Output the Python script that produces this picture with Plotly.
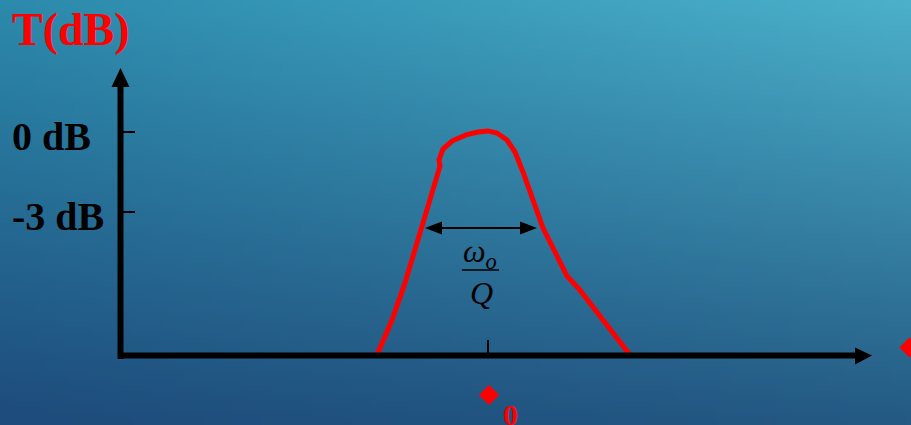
import zlib, struct, base64
import plotly.graph_objects as go

# ---------------- data ----------------
# frequency axis (arbitrary units), gain in dB
curve_freq = [3.77, 3.92, 4.05, 4.20, 4.40, 4.39, 4.43, 4.52, 4.66, 4.78, 4.88,
              4.97, 5.07, 5.15, 5.23, 5.43, 5.67, 5.80, 6.30]
curve_db = [-8.36, -7.05, -5.66, -3.75, -1.28, -1.05, -0.64, -0.34, -0.11, 0.0, 0.04,
            -0.04, -0.30, -0.75, -1.50, -3.60, -5.40, -5.93, -8.36]
tick_db = [0, -3]
tick_labels = ["0 dB", "-3 dB"]
center_freq = 4.88          # ω0
bw_low, bw_high = 4.25, 5.37  # bandwidth arrow ends
bw_level = -3.6
axis_origin_x = 1.205
axis_base_db = -8.38
axis_top_db = 2.4
axis_right_x = 8.72

# ---------------- scale (px <-> data) ----------------
W, H = 911, 425
PX_PER_DB = 80 / 3.0
Y0_PX = 132.0
def ydb(py):
    return (Y0_PX - py) / PX_PER_DB
Y_RANGE = [ydb(H), ydb(0)]
X_RANGE = [0, W / 100.0]

# ---------------- background gradient PNG ----------------
def make_png(w, h, fn):
    raw = bytearray()
    for j in range(h):
        raw.append(0)
        for i in range(w):
            r, g, b = fn(i / (w - 1), j / (h - 1))
            raw += bytes((int(r), int(g), int(b)))
    def chunk(tag, data):
        return (struct.pack('>I', len(data)) + tag + data +
                struct.pack('>I', zlib.crc32(tag + data) & 0xffffffff))
    png = (b'\x89PNG\r\n\x1a\n' +
           chunk(b'IHDR', struct.pack('>IIBBBBB', w, h, 8, 2, 0, 0, 0)) +
           chunk(b'IDAT', zlib.compress(bytes(raw))) + chunk(b'IEND', b''))
    return 'data:image/png;base64,' + base64.b64encode(png).decode()

TL, TR, BL, BR = (44, 138, 172), (76, 176, 202), (30, 76, 124), (36, 90, 132)
def grad(u, v):
    top = [TL[k] + (TR[k] - TL[k]) * u for k in range(3)]
    bot = [BL[k] + (BR[k] - BL[k]) * u for k in range(3)]
    return [top[k] + (bot[k] - top[k]) * v for k in range(3)]
bg_src = make_png(92, 43, grad)

# ---------------- figure ----------------
fig = go.Figure()

fig.add_trace(go.Scatter(x=curve_freq, y=curve_db, mode='lines',
                         line=dict(color='#ff0000', width=5),
                         hoverinfo='skip', showlegend=False, cliponaxis=False))

# diamonds (symbol-font ω rendered as ◆)
fig.add_trace(go.Scatter(x=[center_freq + 0.01, 9.095], y=[ydb(395), ydb(347.5)],
                         mode='markers',
                         marker=dict(symbol='diamond', size=15.5, color='#ff0000',
                                     line=dict(width=0)),
                         hoverinfo='skip', showlegend=False, cliponaxis=False))

shapes = []
blk = dict(color='black', width=6)
# vertical axis
shapes.append(dict(type='line', xref='x', yref='y', x0=axis_origin_x, x1=axis_origin_x,
                   y0=ydb(359), y1=ydb(84), line=blk))
# horizontal axis
shapes.append(dict(type='line', xref='x', yref='y', x0=1.18, x1=8.57,
                   y0=axis_base_db, y1=axis_base_db, line=blk))
# arrowheads
def tri(p):
    return 'M ' + ' L '.join(f'{a},{b}' for a, b in p) + ' Z'
shapes.append(dict(type='path', xref='x', yref='y',
                   path=tri([(axis_origin_x, axis_top_db), (axis_origin_x - 0.09, ydb(87)),
                             (axis_origin_x + 0.09, ydb(87))]),
                   fillcolor='black', line=dict(width=0)))
shapes.append(dict(type='path', xref='x', yref='y',
                   path=tri([(axis_right_x, axis_base_db), (axis_right_x - 0.17, ydb(347.5)),
                             (axis_right_x - 0.17, ydb(364.5))]),
                   fillcolor='black', line=dict(width=0)))
# y ticks
for t in tick_db:
    shapes.append(dict(type='line', xref='x', yref='y', x0=axis_origin_x, x1=1.35,
                       y0=t, y1=t, line=dict(color='black', width=2)))
# x tick at ω0
shapes.append(dict(type='line', xref='x', yref='y', x0=center_freq, x1=center_freq,
                   y0=ydb(340), y1=axis_base_db, line=dict(color='black', width=2)))
# bandwidth double arrow
shapes.append(dict(type='line', xref='x', yref='y', x0=bw_low + 0.1, x1=bw_high - 0.1,
                   y0=bw_level, y1=bw_level, line=dict(color='black', width=1.8)))
hh = 6.5 / PX_PER_DB
shapes.append(dict(type='path', xref='x', yref='y',
                   path=tri([(bw_low, bw_level), (bw_low + 0.17, bw_level + hh),
                             (bw_low + 0.17, bw_level - hh)]),
                   fillcolor='black', line=dict(width=0)))
shapes.append(dict(type='path', xref='x', yref='y',
                   path=tri([(bw_high, bw_level), (bw_high - 0.17, bw_level + hh),
                             (bw_high - 0.17, bw_level - hh)]),
                   fillcolor='black', line=dict(width=0)))
# fraction bar
shapes.append(dict(type='line', xref='x', yref='y', x0=4.62, x1=4.99,
                   y0=ydb(270), y1=ydb(270), line=dict(color='black', width=1.3)))

serif = 'Liberation Serif, Times New Roman, serif'
ann = []
ann.append(dict(text='<b>T(dB)</b>', x=0.10, y=ydb(29), xref='x', yref='y',
                xanchor='left', yanchor='middle', showarrow=False,
                font=dict(family=serif, size=46, color='#ff0000')))
for t, lab in zip(tick_db, tick_labels):
    ann.append(dict(text=f'<b>{lab}</b>', x=0.10, y=t - 0.17, xref='x', yref='y',
                    xanchor='left', yanchor='middle', showarrow=False,
                    font=dict(family=serif, size=40, color='black')))
ann.append(dict(text='<i>ω<sub>o</sub></i>', x=4.80, y=ydb(253), xref='x', yref='y',
                xanchor='center', yanchor='middle', showarrow=False,
                font=dict(family=serif, size=32, color='black')))
ann.append(dict(text='<i>Q</i>', x=4.81, y=ydb(293), xref='x', yref='y',
                xanchor='center', yanchor='middle', showarrow=False,
                font=dict(family=serif, size=32, color='black')))
ann.append(dict(text='<b>0</b>', x=5.105, y=ydb(414), xref='x', yref='y',
                xanchor='center', yanchor='middle', showarrow=False,
                font=dict(family=serif, size=30, color='#ff0000')))

fig.update_layout(
    width=W, height=H, margin=dict(l=0, r=0, t=0, b=0, pad=0),
    paper_bgcolor='#2a6f98', plot_bgcolor='rgba(0,0,0,0)',
    xaxis=dict(range=X_RANGE, visible=False, fixedrange=True),
    yaxis=dict(range=Y_RANGE, visible=False, fixedrange=True),
    shapes=shapes, annotations=ann, showlegend=False,
    images=[dict(source=bg_src, xref='paper', yref='paper', x=0, y=1,
                 sizex=1, sizey=1, xanchor='left', yanchor='top',
                 sizing='stretch', layer='below')],
)

fig.write_html("out.html", config={'displayModeBar': False},
               post_script="document.body.style.margin='0';document.body.style.overflow='hidden';")
